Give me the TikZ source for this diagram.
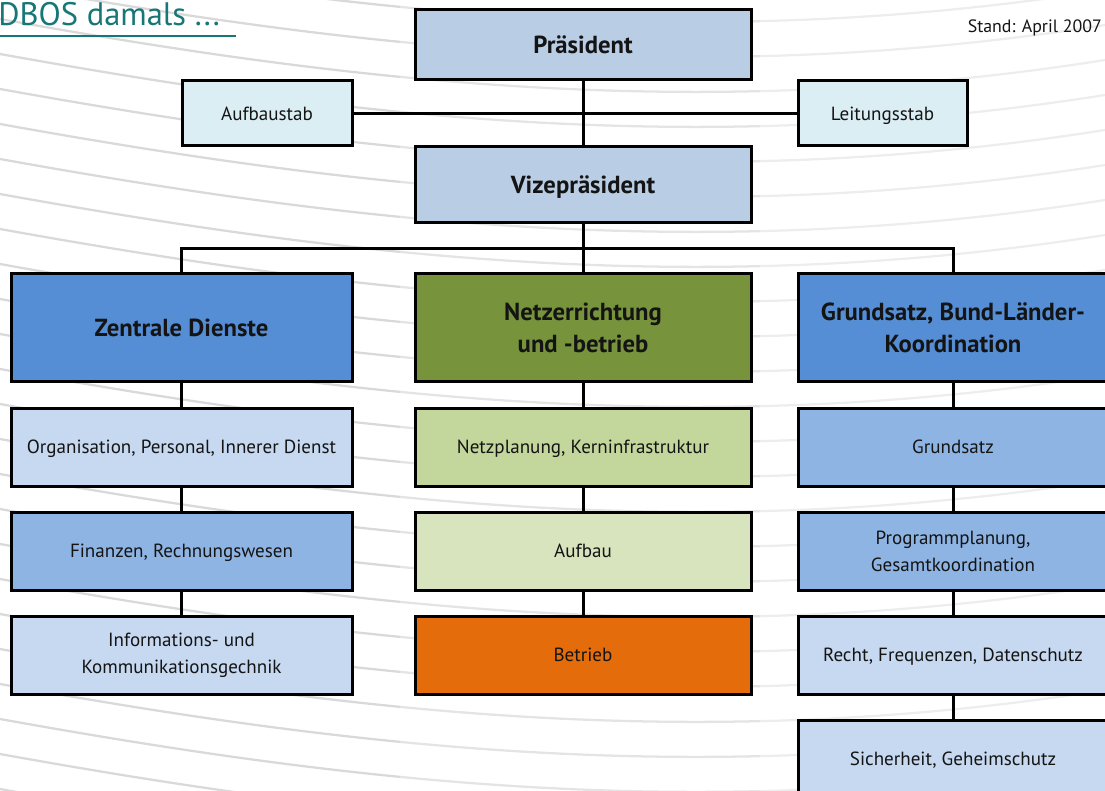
\documentclass[tikz,border=0pt]{standalone}
\usepackage{fontspec}
\setmainfont{PT Sans}
\definecolor{txt}{HTML}{141414}
\definecolor{titlec}{HTML}{177676}
\definecolor{cPres}{HTML}{B9CDE5}
\definecolor{cStab}{HTML}{DBEEF4}
\definecolor{cHeadB}{HTML}{558ED5}
\definecolor{cHeadG}{HTML}{77933C}
\definecolor{cLightB}{HTML}{C6D9F1}
\definecolor{cMidB}{HTML}{8EB4E3}
\definecolor{cGreen1}{HTML}{C3D69B}
\definecolor{cGreen2}{HTML}{D7E4BD}
\definecolor{cOrange}{HTML}{E46C0A}
\definecolor{bgA}{HTML}{D9D9D9}
\definecolor{bgB}{HTML}{E4E4E4}
\definecolor{bgC}{HTML}{EDEDED}
\tikzset{
  box/.style 2 args={draw=black, line width=2.25pt, rectangle, align=center,
    inner sep=0pt, text=txt, minimum width=#1*0.75pt, minimum height=#2*0.75pt},
  headfont/.style={font=\fontsize{18.5}{24}\selectfont\bfseries},
  bodyfont/.style={font=\fontsize{14.3}{20.3}\selectfont},
  headone/.style={text height=12.95pt, text depth=0pt},
  bodyone/.style={text height=10pt, text depth=0pt},
  conn/.style={draw=black, line width=2.25pt},
  bgline/.style={line width=1.7pt}
}
\begin{document}
\begin{tikzpicture}[x=0.75pt,y=-0.75pt]
\useasboundingbox (0,0) rectangle (1105,791);
\begin{scope}
\clip (0,0) rectangle (1105,791);
% background curves
\begin{scope}
  \clip (0,0) rectangle (400,791);
  \foreach \k in {-8,...,20}
    \draw[bgline, draw=bgA] (0,124+35*\k) .. controls (350,187+35*\k) and (700,229+35*\k) .. (1105,165+35*\k);
\end{scope}
\begin{scope}
  \clip (400,0) rectangle (760,791);
  \foreach \k in {-8,...,20}
    \draw[bgline, draw=bgB] (0,124+35*\k) .. controls (350,187+35*\k) and (700,229+35*\k) .. (1105,165+35*\k);
\end{scope}
\begin{scope}
  \clip (760,0) rectangle (1105,791);
  \foreach \k in {-8,...,20}
    \draw[bgline, draw=bgC] (0,124+35*\k) .. controls (350,187+35*\k) and (700,229+35*\k) .. (1105,165+35*\k);
\end{scope}

% title
\node[anchor=base west, inner sep=0pt, text=titlec, font=\fontsize{24.4}{28}\selectfont] (title) at (-2,26) {DBOS damals ...};
\draw[titlec, line width=0.9pt] (0,36) -- (236,36);
\node[anchor=base east, inner sep=0pt, text=txt, font=\fontsize{13.4}{15}\selectfont] (stand) at (1102,33) {Stand: April 2007};

% top level
\node[box={336}{70}, fill=cPres, headfont, headone] (pres) at (583,45) {Präsident};
\node[box={170}{65}, fill=cStab, bodyfont, bodyone] (aufst) at (267,113.5) {Aufbaustab};
\node[box={169}{65}, fill=cStab, bodyfont, bodyone] (leit) at (882.5,113.5) {Leitungsstab};
\node[box={336}{76}, fill=cPres, headfont, headone] (vize) at (583,185) {Vizepräsident};

% departments
\node[box={341}{107}, fill=cHeadB, headfont, headone] (zd) at (181.5,327.5) {Zentrale Dienste};
\node[box={336}{107}, fill=cHeadG, headfont] (netz) at (583,327.5) {Netzerrichtung\\und -betrieb};
\node[box={310}{107}, fill=cHeadB, headfont] (gbl) at (953,327.5) {Grundsatz, Bund-Länder-\\Koordination};

% left column
\node[box={341}{78}, fill=cLightB, bodyfont, bodyone] (org) at (181.5,447) {Organisation, Personal, Innerer Dienst};
\node[box={341}{78}, fill=cMidB, bodyfont, bodyone] (fin) at (181.5,551) {Finanzen, Rechnungswesen};
\node[box={341}{78}, fill=cLightB, bodyfont] (ikt) at (181.5,655) {Informations- und\\Kommunikationsgechnik};

% middle column
\node[box={336}{78}, fill=cGreen1, bodyfont, bodyone] (np) at (583,447) {Netzplanung, Kerninfrastruktur};
\node[box={336}{78}, fill=cGreen2, bodyfont, bodyone] (aufbau) at (583,551) {Aufbau};
\node[box={336}{78}, fill=cOrange, bodyfont, bodyone] (betr) at (583,655) {Betrieb};

% right column
\node[box={310}{78}, fill=cMidB, bodyfont, bodyone] (gs) at (953,447) {Grundsatz};
\node[box={310}{78}, fill=cMidB, bodyfont] (pp) at (953,551) {Programmplanung,\\Gesamtkoordination};
\node[box={310}{78}, fill=cLightB, bodyfont, bodyone] (recht) at (953,655) {Recht, Frequenzen, Datenschutz};
\node[box={310}{78}, fill=cLightB, bodyfont, bodyone] (sich) at (953,759) {Sicherheit, Geheimschutz};

% connectors
\coordinate (busL) at (181.5,249);
\coordinate (busM) at (583,249);
\coordinate (busR) at (953,249);
\draw[conn] (pres.south) -- (vize.north);
\draw[conn] (aufst.east) -- (leit.west);
\draw[conn] (vize.south) -- (busM);
\draw[conn] (zd.north) -- (busL) -- (busR) -- (gbl.north);
\draw[conn] (busM) -- (netz.north);
\draw[conn] (zd.south) -- (org.north);
\draw[conn] (org.south) -- (fin.north);
\draw[conn] (fin.south) -- (ikt.north);
\draw[conn] (netz.south) -- (np.north);
\draw[conn] (np.south) -- (aufbau.north);
\draw[conn] (aufbau.south) -- (betr.north);
\draw[conn] (gbl.south) -- (gs.north);
\draw[conn] (gs.south) -- (pp.north);
\draw[conn] (pp.south) -- (recht.north);
\draw[conn] (recht.south) -- (sich.north);
\end{scope}
\end{tikzpicture}
\end{document}
